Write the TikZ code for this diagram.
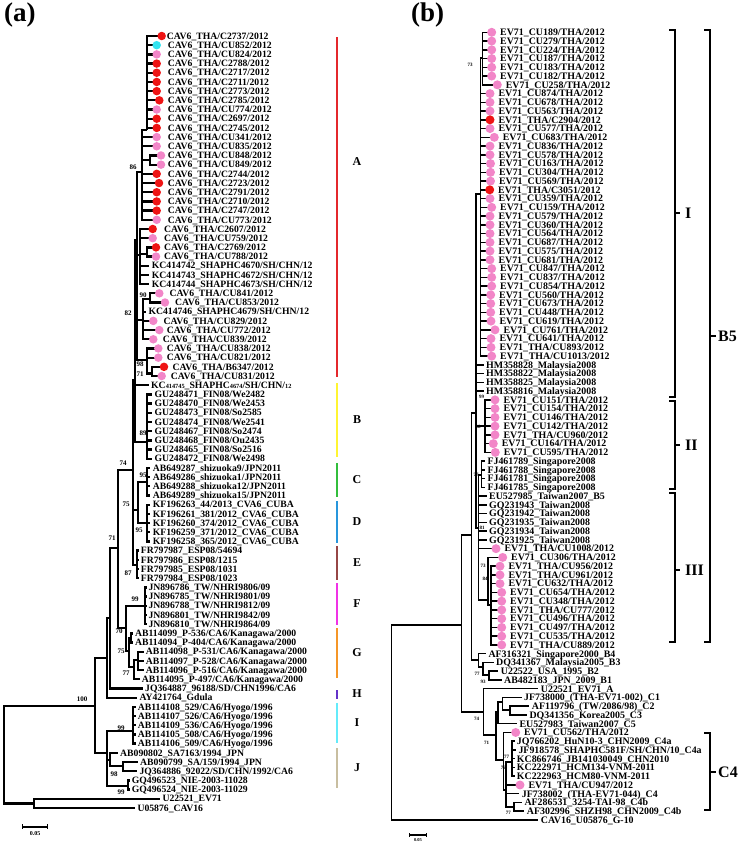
\documentclass[tikz,border=0pt]{standalone}
\usepackage{fontspec}
\setmainfont{Liberation Serif}
\definecolor{cr}{RGB}{238,20,20}
\definecolor{cp}{RGB}{242,134,200}
\definecolor{cc}{RGB}{50,228,240}
\definecolor{kA}{RGB}{228,40,44}
\definecolor{kB}{RGB}{255,245,50}
\definecolor{kC}{RGB}{50,190,60}
\definecolor{kD}{RGB}{40,150,220}
\definecolor{kE}{RGB}{150,70,70}
\definecolor{kF}{RGB}{240,50,230}
\definecolor{kG}{RGB}{245,150,40}
\definecolor{kH}{RGB}{100,50,200}
\definecolor{kI}{RGB}{100,235,250}
\definecolor{kJ}{RGB}{200,190,160}
\newcommand\fa{\fontsize{9.7}{9.7}\selectfont\bfseries}
\newcommand\fb{\fontsize{9.9}{9.9}\selectfont\bfseries}
\newcommand\sm[1]{{\fontsize{6.3}{6.3}\selectfont #1}}
\newcommand\ls{3.2}
\newcommand\yo{36}
\newcommand\yd{9.19}
\newcommand\In[4]{\coordinate (#1) at (#3,#4); \draw[br] (#2) |- (#1);}
\newcommand\Lf[7]{\coordinate (#1) at (#4,{\yo+(#3-1)*\yd}); \draw[br] (#2) |- (#1);
 \ifx\relax#6\relax\else\node[dot,fill=#6] (#1d) at (#1) {};\fi
 \node[lbl] (#1t) at (#5,{\yo+(#3-1)*\yd+\ls}) {#7};}
\begin{document}
\begin{tikzpicture}[x=1pt,y=-1pt,
  br/.style={line width=2.3pt},
  lbl/.style={anchor=base west,inner sep=0pt,font=\fa},
  dot/.style={circle,inner sep=0pt,minimum size=8.5pt,draw=none},
  bsa/.style={inner sep=0pt,font=\fontsize{7}{7}\selectfont\bfseries},
  bsb/.style={inner sep=0pt,font=\fontsize{5}{5}\selectfont\bfseries},
  clbar/.style={line width=1.5pt},
  cllet/.style={inner sep=0pt,font=\fontsize{12}{12}\selectfont\bfseries},
  brk/.style={line width=1.3pt},
  brklet/.style={anchor=west,inner sep=0pt,font=\fontsize{16}{16}\selectfont\bfseries},
  head/.style={anchor=west,inner sep=0pt,font=\fontsize{27}{27}\selectfont\bfseries}]
\useasboundingbox (0,0) rectangle (745,846);
\node[head] (ha) at (4,15) {(a)};
\node[head] (hb) at (411,15) {(b)};
% ================= panel (a)
\coordinate (Ra) at (4,755);
\In{Out}{Ra}{34}{803.5}
\In{N100}{Ra}{95}{706}
\In{N107}{N100}{107}{658}
\In{NIJ}{N100}{107}{753}
\In{N110}{N107}{110}{618}
\In{N118}{N110}{118}{548}
\In{N133}{N118}{133}{470}
\In{NFG}{N118}{126}{628}
\In{NAB}{N133}{135}{380}
\In{NCD}{N133}{138}{510}
\In{NE}{N133}{137}{565}
\In{NA}{NAB}{137}{240}
\In{NB}{NAB}{147}{442}
\In{NC}{NCD}{147}{482}
\In{ND}{NCD}{147}{523}
\In{N86}{NA}{142}{172}
\In{NK}{NA}{140}{255}
\In{N82}{NA}{143}{320}
\In{N98}{NA}{147}{360}
\In{N1}{N86}{147}{130}
\In{N848}{N86}{150}{160}
\In{N2769}{NK}{147}{253.7}
\In{N90}{N82}{150}{299}
\In{N71}{N98}{152}{373.5}
\In{NF}{NFG}{145}{605.7}
\In{NG}{NFG}{129}{651}
\In{NG1}{NG}{131}{638}
\In{NG2}{NG}{134}{667}
\In{NG2a}{NG2}{138}{660}
\In{NI}{NIJ}{133}{731}
\In{NJ1}{NIJ}{110}{760}
\In{NJ1b}{NJ1}{123}{766}
\In{NJ2}{NIJ}{128}{786}
\Lf{a1}{N1}{1}{161.7}{166.7}{cr}{CAV6\_THA/C2737/2012}
\Lf{a2}{N1}{2}{156.7}{167.7}{cc}{CAV6\_THA/CU852/2012}
\Lf{a3}{N1}{3}{156.7}{167.7}{cp}{CAV6\_THA/CU824/2012}
\Lf{a4}{N1}{4}{156.7}{167.7}{cr}{CAV6\_THA/C2788/2012}
\Lf{a5}{N1}{5}{156.7}{167.7}{cr}{CAV6\_THA/C2717/2012}
\Lf{a6}{N1}{6}{156.7}{167.7}{cr}{CAV6\_THA/C2711/2012}
\Lf{a7}{N1}{7}{156.7}{167.7}{cr}{CAV6\_THA/C2773/2012}
\Lf{a8}{N1}{8}{159.3}{167.7}{cr}{CAV6\_THA/C2785/2012}
\Lf{a9}{N1}{9}{156.7}{167.7}{cp}{CAV6\_THA/CU774/2012}
\Lf{a10}{N1}{10}{156.7}{167.7}{cr}{CAV6\_THA/C2697/2012}
\Lf{a11}{N1}{11}{156.7}{167.7}{cr}{CAV6\_THA/C2745/2012}
\Lf{a12}{N86}{12}{156.7}{167.7}{cp}{CAV6\_THA/CU341/2012}
\Lf{a13}{N86}{13}{156.7}{167.7}{cp}{CAV6\_THA/CU835/2012}
\Lf{a14}{N848}{14}{161}{167.7}{cp}{CAV6\_THA/CU848/2012}
\Lf{a15}{N848}{15}{161}{167.7}{cp}{CAV6\_THA/CU849/2012}
\Lf{a16}{N86}{16}{156.7}{167.7}{cr}{CAV6\_THA/C2744/2012}
\Lf{a17}{N86}{17}{159}{167.7}{cr}{CAV6\_THA/C2723/2012}
\Lf{a18}{N86}{18}{156.7}{167.7}{cr}{CAV6\_THA/C2791/2012}
\Lf{a19}{N86}{19}{156.7}{167.7}{cr}{CAV6\_THA/C2710/2012}
\Lf{a20}{N86}{20}{156.7}{167.7}{cr}{CAV6\_THA/C2747/2012}
\Lf{a21}{N86}{21}{156.7}{167.7}{cp}{CAV6\_THA/CU773/2012}
\Lf{a22}{NK}{22}{152.7}{164}{cr}{CAV6\_THA/C2607/2012}
\Lf{a23}{NK}{23}{152.7}{164}{cp}{CAV6\_THA/CU759/2012}
\Lf{a24}{N2769}{24}{156}{164}{cr}{CAV6\_THA/C2769/2012}
\Lf{a25}{N2769}{25}{156}{164}{cp}{CAV6\_THA/CU788/2012}
\Lf{a26}{NK}{26}{149}{151.7}{}{KC414742\_SHAPHC4670/SH/CHN/12}
\Lf{a27}{NK}{27}{149}{151.7}{}{KC414743\_SHAPHC4672/SH/CHN/12}
\Lf{a28}{NK}{28}{149}{151.7}{}{KC414744\_SHAPHC4673/SH/CHN/12}
\Lf{a29}{N90}{29}{159.3}{169.3}{cp}{CAV6\_THA/CU841/2012}
\Lf{a30}{N90}{30}{165}{175}{cp}{CAV6\_THA/CU853/2012}
\Lf{a31}{N82}{31}{146}{148.3}{}{KC414746\_SHAPHC4679/SH/CHN/12}
\Lf{a32}{N82}{32}{153.3}{163.3}{cp}{CAV6\_THA/CU829/2012}
\Lf{a33}{N82}{33}{159.3}{166.7}{cp}{CAV6\_THA/CU772/2012}
\Lf{a34}{N82}{34}{153.3}{162.7}{cp}{CAV6\_THA/CU839/2012}
\Lf{a35}{N98}{35}{158.3}{166.7}{cp}{CAV6\_THA/CU838/2012}
\Lf{a36}{N98}{36}{158.3}{166.7}{cp}{CAV6\_THA/CU821/2012}
\Lf{a37}{N71}{37}{164}{172.3}{cr}{CAV6\_THA/B6347/2012}
\Lf{a38}{N71}{38}{161.7}{170.7}{cp}{CAV6\_THA/CU831/2012}
\Lf{a39}{NAB}{39}{148.5}{151}{}{KC\sm{414745}\_SHAPHC\sm{4674}/SH/CHN/\sm{12}}
\Lf{a40}{NB}{40}{151.5}{154.3}{}{GU248471\_FIN08/We2482}
\Lf{a41}{NB}{41}{151.5}{154.3}{}{GU248470\_FIN08/We2453}
\Lf{a42}{NB}{42}{151.5}{154.3}{}{GU248473\_FIN08/So2585}
\Lf{a43}{NB}{43}{151.5}{154.3}{}{GU248474\_FIN08/We2541}
\Lf{a44}{NB}{44}{151.5}{154.3}{}{GU248467\_FIN08/So2474}
\Lf{a45}{NB}{45}{151.5}{154.3}{}{GU248468\_FIN08/Ou2435}
\Lf{a46}{NB}{46}{151.5}{154.3}{}{GU248465\_FIN08/So2516}
\Lf{a47}{NB}{47}{151.5}{154.3}{}{GU248472\_FIN08/We2498}
\Lf{a48}{NC}{48}{150}{152.7}{}{AB649287\_shizuoka9/JPN2011}
\Lf{a49}{NC}{49}{150}{152.7}{}{AB649286\_shizuoka1/JPN2011}
\Lf{a50}{NC}{50}{150}{152.7}{}{AB649288\_shizuoka12/JPN2011}
\Lf{a51}{NC}{51}{150}{152.7}{}{AB649289\_shizuoka15/JPN2011}
\Lf{a52}{ND}{52}{150}{152.7}{}{KF196263\_44/2013\_CVA6\_CUBA}
\Lf{a53}{ND}{53}{150}{152.7}{}{KF196261\_381/2012\_CVA6\_CUBA}
\Lf{a54}{ND}{54}{150}{152.7}{}{KF196260\_374/2012\_CVA6\_CUBA}
\Lf{a55}{ND}{55}{150}{152.7}{}{KF196259\_371/2012\_CVA6\_CUBA}
\Lf{a56}{ND}{56}{150}{152.7}{}{KF196258\_365/2012\_CVA6\_CUBA}
\Lf{a57}{NE}{57}{138.5}{140.7}{}{FR797987\_ESP08/54694}
\Lf{a58}{NE}{58}{138.5}{140.7}{}{FR797986\_ESP08/1215}
\Lf{a59}{NE}{59}{138.5}{140.7}{}{FR797985\_ESP08/1031}
\Lf{a60}{NE}{60}{138.5}{140.7}{}{FR797984\_ESP08/1023}
\Lf{a61}{NF}{61}{146.5}{148.3}{}{JN896786\_TW/NHRI9806/09}
\Lf{a62}{NF}{62}{146.5}{148.3}{}{JN896785\_TW/NHRI9801/09}
\Lf{a63}{NF}{63}{146.5}{148.3}{}{JN896788\_TW/NHRI9812/09}
\Lf{a64}{NF}{64}{146.5}{148.3}{}{JN896801\_TW/NHRI9842/09}
\Lf{a65}{NF}{65}{146.5}{148.3}{}{JN896810\_TW/NHRI9864/09}
\Lf{a66}{NG1}{66}{133}{135}{}{AB114099\_P-536/CA6/Kanagawa/2000}
\Lf{a67}{NG1}{67}{133}{135}{}{AB114094\_P-404/CA6/Kanagawa/2000}
\Lf{a68}{NG2a}{68}{143.5}{145.7}{}{AB114098\_P-531/CA6/Kanagawa/2000}
\Lf{a69}{NG2a}{69}{143.5}{145.7}{}{AB114097\_P-528/CA6/Kanagawa/2000}
\Lf{a70}{NG2a}{70}{143.5}{145.7}{}{AB114096\_P-516/CA6/Kanagawa/2000}
\Lf{a71}{NG2}{71}{139.5}{141.7}{}{AB114095\_P-497/CA6/Kanagawa/2000}
\Lf{a72}{N110}{72}{142.5}{145}{}{JQ364887\_96188/SD/CHN1996/CA6}
\Lf{a73}{N107}{73}{137}{139.3}{}{AY421764\_Gdula}
\Lf{a74}{NI}{74}{135.5}{137.7}{}{AB114108\_529/CA6/Hyogo/1996}
\Lf{a75}{NI}{75}{135.5}{137.7}{}{AB114107\_526/CA6/Hyogo/1996}
\Lf{a76}{NI}{76}{135.5}{137.7}{}{AB114109\_536/CA6/Hyogo/1996}
\Lf{a77}{NI}{77}{135.5}{137.7}{}{AB114105\_508/CA6/Hyogo/1996}
\Lf{a78}{NI}{78}{135.5}{137.7}{}{AB114106\_509/CA6/Hyogo/1996}
\Lf{a79}{NJ1}{79}{117.5}{120}{}{AB090802\_SA7163/1994\_JPN}
\Lf{a80}{NJ1b}{80}{137.5}{140}{}{AB090799\_SA/159/1994\_JPN}
\Lf{a81}{NJ1b}{81}{137}{139.3}{}{JQ364886\_92022/SD/CHN/1992/CA6}
\Lf{a82}{NJ2}{82}{129.5}{131.7}{}{GQ496523\_NIE-2003-11028}
\Lf{a83}{NJ2}{83}{129.5}{131.7}{}{GQ496524\_NIE-2003-11029}
\Lf{a84}{Out}{84}{160}{162.3}{}{U22521\_EV71}
\Lf{a85}{Out}{85}{135}{137.3}{}{U05876\_CAV16}
% bootstrap (a)
\node[bsa] (ba1) at (133,167) {86};
\node[bsa] (ba2) at (143,295) {90};
\node[bsa] (ba3) at (128,313) {82};
\node[bsa] (ba4) at (140,364) {98};
\node[bsa] (ba5) at (140,374) {71};
\node[bsa] (ba6) at (143,433) {89};
\node[bsa] (ba7) at (143,475) {95};
\node[bsa] (ba8) at (126,504) {75};
\node[bsa] (ba9) at (139,530) {95};
\node[bsa] (ba10) at (123,463) {74};
\node[bsa] (ba11) at (112,538) {71};
\node[bsa] (ba12) at (128,573) {87};
\node[bsa] (ba13) at (135,599) {99};
\node[bsa] (ba14) at (119,631) {70};
\node[bsa] (ba15) at (121,651) {75};
\node[bsa] (ba16) at (126,673) {77};
\node[bsa] (ba17) at (82,699) {100};
\node[bsa] (ba18) at (121,728) {99};
\node[bsa] (ba19) at (114,774) {98};
\node[bsa] (ba20) at (121,792) {99};
% clade bars
\draw[clbar,kA] (337,37) -- (337,377);
\draw[clbar,kB] (337,383) -- (337,457);
\draw[clbar,kC] (337,463) -- (337,497);
\draw[clbar,kD] (337,501) -- (337,543);
\draw[clbar,kE] (337,546) -- (337,580);
\draw[clbar,kF] (337,583) -- (337,625);
\draw[clbar,kG] (337,628) -- (337,678);
\draw[clbar,kH] (337,690) -- (337,699);
\draw[clbar,kI] (337,703) -- (337,743);
\draw[clbar,kJ] (337,748) -- (337,788);
\node[cllet] (lA) at (357,162) {A};
\node[cllet] (lB) at (357,420) {B};
\node[cllet] (lC) at (357,480) {C};
\node[cllet] (lD) at (357,522) {D};
\node[cllet] (lE) at (357,563) {E};
\node[cllet] (lF) at (357,604) {F};
\node[cllet] (lG) at (357,653) {G};
\node[cllet] (lH) at (357,694) {H};
\node[cllet] (lI) at (357,723) {I};
\node[cllet] (lJ) at (357,768) {J};
% scale bar (a)
\coordinate (sa1) at (22.7,826.7); \coordinate (sa2) at (47.7,826.7);
\draw[line width=1.6pt] (sa1) -- (sa2);
\draw[line width=1.2pt] (22.7,824) -- (22.7,829.4) (47.7,824) -- (47.7,829.4);
\node[inner sep=0pt,font=\fontsize{6}{6}\selectfont\bfseries] (sal) at (35.2,833.5) {0.05};
% ================= panel (b)
\begin{scope}[br/.style={line width=1.5pt},
  lbl/.style={anchor=base west,inner sep=0pt,font=\fb},
  dot/.style={circle,inner sep=0pt,minimum size=9pt,draw=none}]
\renewcommand\ls{3.3}
\renewcommand\yo{32.3}
\renewcommand\yd{8.752}
\coordinate (Rb) at (391.7,722);
\In{Nb1}{Rb}{461.7}{625}
\In{Bc}{Nb1}{471.7}{535}
\In{Cc}{Nb1}{483.3}{712}
\In{B5}{Bc}{476}{413}
\In{B14}{Bc}{478.3}{660}
\In{B13}{B14}{483}{667}
\In{B12}{B13}{489}{675}
\In{bI}{B5}{480.5}{194}
\In{bT}{bI}{482.5}{58}
\In{bII}{B5}{485}{426}
\In{bS81}{B5}{478.5}{528}
\In{bSg}{bS81}{481.7}{475}
\In{bIII}{bS81}{488}{600}
\In{bN84}{bIII}{491}{605}
\In{CR}{Cc}{496}{735}
\In{C1235}{CR}{498}{712}
\In{C123}{C1235}{502.7}{702}
\In{C23}{C123}{510}{710}
\In{C4}{CR}{503.3}{760}
\In{C4x}{C4}{506}{790}
\In{C4a}{C4x}{512}{762}
\In{C4b}{C4x}{514}{807}
\Lf{b1}{bT}{1}{491.7}{500}{cp}{EV71\_CU189/THA/2012}
\Lf{b2}{bT}{2}{491.7}{500}{cp}{EV71\_CU279/THA/2012}
\Lf{b3}{bT}{3}{491.7}{500}{cp}{EV71\_CU224/THA/2012}
\Lf{b4}{bT}{4}{491.7}{500}{cp}{EV71\_CU187/THA/2012}
\Lf{b5}{bT}{5}{491.7}{500}{cp}{EV71\_CU183/THA/2012}
\Lf{b6}{bT}{6}{491.7}{500}{cp}{EV71\_CU182/THA/2012}
\Lf{b7}{bT}{7}{497.3}{505.6}{cp}{EV71\_CU258/THA/2012}
\Lf{b8}{bI}{8}{490}{498.3}{cp}{EV71\_CU874/THA/2012}
\Lf{b9}{bI}{9}{490}{498.3}{cp}{EV71\_CU678/THA/2012}
\Lf{b10}{bI}{10}{490}{498.3}{cp}{EV71\_CU563/THA/2012}
\Lf{b11}{bI}{11}{490}{498.3}{cr}{EV71\_THA/C2904/2012}
\Lf{b12}{bI}{12}{490}{498.3}{cp}{EV71\_CU577/THA/2012}
\Lf{b13}{bI}{13}{494.3}{502.6}{cp}{EV71\_CU683/THA/2012}
\Lf{b14}{bI}{14}{490}{498.3}{cp}{EV71\_CU836/THA/2012}
\Lf{b15}{bI}{15}{490}{498.3}{cp}{EV71\_CU578/THA/2012}
\Lf{b16}{bI}{16}{490.5}{498.8}{cp}{EV71\_CU163/THA/2012}
\Lf{b17}{bI}{17}{490.5}{498.8}{cp}{EV71\_CU304/THA/2012}
\Lf{b18}{bI}{18}{490.5}{498.8}{cp}{EV71\_CU569/THA/2012}
\Lf{b19}{bI}{19}{489.7}{498}{cr}{EV71\_THA/C3051/2012}
\Lf{b20}{bI}{20}{490}{498.3}{cp}{EV71\_CU359/THA/2012}
\Lf{b21}{bI}{21}{491.7}{500}{cp}{EV71\_CU159/THA/2012}
\Lf{b22}{bI}{22}{490}{498.3}{cp}{EV71\_CU579/THA/2012}
\Lf{b23}{bI}{23}{490}{498.3}{cp}{EV71\_CU360/THA/2012}
\Lf{b24}{bI}{24}{490}{498.3}{cp}{EV71\_CU564/THA/2012}
\Lf{b25}{bI}{25}{490}{498.3}{cp}{EV71\_CU687/THA/2012}
\Lf{b26}{bI}{26}{490}{498.3}{cp}{EV71\_CU575/THA/2012}
\Lf{b27}{bI}{27}{490}{498.3}{cp}{EV71\_CU681/THA/2012}
\Lf{b28}{bI}{28}{491.7}{500}{cp}{EV71\_CU847/THA/2012}
\Lf{b29}{bI}{29}{491.7}{500}{cp}{EV71\_CU837/THA/2012}
\Lf{b30}{bI}{30}{491.7}{500}{cp}{EV71\_CU854/THA/2012}
\Lf{b31}{bI}{31}{490.7}{499}{cp}{EV71\_CU560/THA/2012}
\Lf{b32}{bI}{32}{490.7}{499}{cp}{EV71\_CU673/THA/2012}
\Lf{b33}{bI}{33}{490.7}{499}{cp}{EV71\_CU448/THA/2012}
\Lf{b34}{bI}{34}{491}{499.3}{cp}{EV71\_CU619/THA/2012}
\Lf{b35}{bI}{35}{495}{503.3}{cp}{EV71\_CU761/THA/2012}
\Lf{b36}{bI}{36}{491}{499.3}{cp}{EV71\_CU641/THA/2012}
\Lf{b37}{bI}{37}{491}{499.3}{cp}{EV71\_THA/CU893/2012}
\Lf{b38}{bI}{38}{491.7}{500}{cp}{EV71\_THA/CU1013/2012}
\Lf{b39}{B5}{39}{484}{486}{}{HM358828\_Malaysia2008}
\Lf{b40}{B5}{40}{484}{486}{}{HM358822\_Malaysia2008}
\Lf{b41}{B5}{41}{484}{486}{}{HM358825\_Malaysia2008}
\Lf{b42}{B5}{42}{484}{486}{}{HM358816\_Malaysia2008}
\Lf{b43}{bII}{43}{495}{503.3}{cp}{EV71\_CU151/THA/2012}
\Lf{b44}{bII}{44}{495}{503.3}{cp}{EV71\_CU154/THA/2012}
\Lf{b45}{bII}{45}{495}{503.3}{cp}{EV71\_CU146/THA/2012}
\Lf{b46}{bII}{46}{495}{503.3}{cp}{EV71\_CU142/THA/2012}
\Lf{b47}{bII}{47}{495}{503.3}{cp}{EV71\_THA/CU960/2012}
\Lf{b48}{bII}{48}{493.3}{501.6}{cp}{EV71\_CU164/THA/2012}
\Lf{b49}{bII}{49}{495.3}{503.6}{cp}{EV71\_CU595/THA/2012}
\Lf{b50}{bSg}{50}{485}{487.3}{}{FJ461789\_Singapore2008}
\Lf{b51}{bSg}{51}{485}{487.3}{}{FJ461788\_Singapore2008}
\Lf{b52}{bSg}{52}{485}{487.3}{}{FJ461781\_Singapore2008}
\Lf{b53}{bSg}{53}{485}{487.3}{}{FJ461785\_Singapore2008}
\Lf{b54}{bS81}{54}{486.5}{489}{}{EU527985\_Taiwan2007\_B5}
\Lf{b55}{bS81}{55}{486.5}{489}{}{GQ231943\_Taiwan2008}
\Lf{b56}{bS81}{56}{486.5}{489}{}{GQ231942\_Taiwan2008}
\Lf{b57}{bS81}{57}{486.5}{489}{}{GQ231935\_Taiwan2008}
\Lf{b58}{bS81}{58}{486.5}{489}{}{GQ231934\_Taiwan2008}
\Lf{b59}{bS81}{59}{486.5}{489}{}{GQ231925\_Taiwan2008}
\Lf{b60}{bS81}{60}{496}{504.3}{cp}{EV71\_THA/CU1008/2012}
\Lf{b61}{bIII}{61}{502.7}{511}{cp}{EV71\_CU306/THA/2012}
\Lf{b62}{bN84}{62}{500}{508.3}{cp}{EV71\_THA/CU956/2012}
\Lf{b63}{bN84}{63}{500}{508.3}{cp}{EV71\_THA/CU961/2012}
\Lf{b64}{bN84}{64}{500}{508.3}{cp}{EV71\_CU632/THA/2012}
\Lf{b65}{bN84}{65}{501.7}{510}{cp}{EV71\_CU654/THA/2012}
\Lf{b66}{bN84}{66}{501.7}{510}{cp}{EV71\_CU348/THA/2012}
\Lf{b67}{bN84}{67}{501.7}{510}{cp}{EV71\_THA/CU777/2012}
\Lf{b68}{bN84}{68}{501.7}{510}{cp}{EV71\_CU496/THA/2012}
\Lf{b69}{bN84}{69}{501.7}{510}{cp}{EV71\_CU497/THA/2012}
\Lf{b70}{bN84}{70}{501.7}{510}{cp}{EV71\_CU535/THA/2012}
\Lf{b71}{bN84}{71}{501.7}{510}{cp}{EV71\_THA/CU889/2012}
\Lf{b72}{B14}{72}{486}{488.3}{}{AF316321\_Singapore2000\_B4}
\Lf{b73}{B13}{73}{493.5}{496}{}{DQ341367\_Malaysia2005\_B3}
\Lf{b74}{B12}{74}{498}{500.7}{}{U22522\_USA\_1995\_B2}
\Lf{b75}{B12}{75}{501.5}{504}{}{AB482183\_JPN\_2009\_B1}
\Lf{b76}{Cc}{76}{538}{540.7}{}{U22521\_EV71\_A}
\Lf{b77}{C123}{77}{521.5}{524}{}{JF738000\_(THA-EV71-002)\_C1}
\Lf{b78}{C23}{78}{529}{531.7}{}{AF119796\_(TW/2086/98)\_C2}
\Lf{b79}{C23}{79}{527}{529.3}{}{DQ341356\_Korea2005\_C3}
\Lf{b80}{C1235}{80}{517}{519.3}{}{EU527983\_Taiwan2007\_C5}
\Lf{b81}{C4}{81}{515.7}{524}{cp}{EV71\_CU562/THA/2012}
\Lf{b82}{C4a}{82}{514.5}{516.7}{}{JQ766202\_HuN10-3\_CHN2009\_C4a}
\Lf{b83}{C4a}{83}{516}{518.3}{}{JF918578\_SHAPHC581F/SH/CHN/10\_C4a}
\Lf{b84}{C4a}{84}{514.5}{516.7}{}{KC866746\_JB141030049\_CHN2010}
\Lf{b85}{C4a}{85}{514.5}{516.7}{}{KC222971\_HCM134-VNM-2011}
\Lf{b86}{C4a}{86}{514.5}{516.7}{}{KC222963\_HCM80-VNM-2011}
\Lf{b87}{C4x}{87}{520}{528.3}{cp}{EV71\_THA/CU947/2012}
\Lf{b88}{C4x}{88}{519}{521.7}{}{JF738002\_(THA-EV71-044)\_C4}
\Lf{b89}{C4b}{89}{522}{524.3}{}{AF286531\_3254-TAI-98\_C4b}
\Lf{b90}{C4b}{90}{524}{526.7}{}{AF302996\_SHZH98\_CHN2009\_C4b}
\Lf{b91}{Rb}{91}{538}{540.7}{}{CAV16\_U05876\_G-10}
\end{scope}
% bootstrap (b)
\node[bsb] (bb1) at (470,65) {73};
\node[bsb] (bb2) at (481.7,397) {99};
\node[bsb] (bb3) at (478,427) {98};
\node[bsb] (bb4) at (476,475) {77};
\node[bsb] (bb5) at (482,528) {81};
\node[bsb] (bb6) at (483,566) {73};
\node[bsb] (bb7) at (485,579) {84};
\node[bsb] (bb8) at (477,674) {77};
\node[bsb] (bb9) at (483,682) {93};
\node[bsb] (bb10) at (476.7,719) {74};
\node[bsb] (bb11) at (486.7,742.7) {71};
\node[bsb] (bb12) at (506.7,756.7) {77};
\node[bsb] (bb13) at (503.3,768.3) {76};
\node[bsb] (bb14) at (508.3,812.7) {77};
% brackets (b)
\draw[brk] (669,30) -- (675,30) -- (675,397) -- (669,397) (675,213) -- (680,213);
\node[brklet] (kI1) at (685,213) {I};
\draw[brk] (669,401) -- (675,401) -- (675,489) -- (669,489) (675,445) -- (680,445);
\node[brklet] (kII) at (685,445) {II};
\draw[brk] (669,493) -- (675,493) -- (675,642) -- (669,642) (675,570) -- (680,570);
\node[brklet] (kIII) at (685,570) {III};
\draw[brk] (704,30) -- (710,30) -- (710,642) -- (704,642) (710,336) -- (716,336);
\node[brklet] (kB5) at (718,336) {B5};
\draw[brk] (704,733) -- (710,733) -- (710,810) -- (704,810) (710,772) -- (716,772);
\node[brklet] (kC4) at (718,772) {C4};
% scale bar (b)
\coordinate (sb1) at (409.3,835); \coordinate (sb2) at (426.7,835);
\draw[line width=1.1pt] (sb1) -- (sb2);
\draw[line width=0.8pt] (409.3,833) -- (409.3,837) (426.7,833) -- (426.7,837);
\node[inner sep=0pt,font=\fontsize{4.5}{4.5}\selectfont\bfseries] (sbl) at (418,840.5) {0.05};
\end{tikzpicture}
\end{document}
